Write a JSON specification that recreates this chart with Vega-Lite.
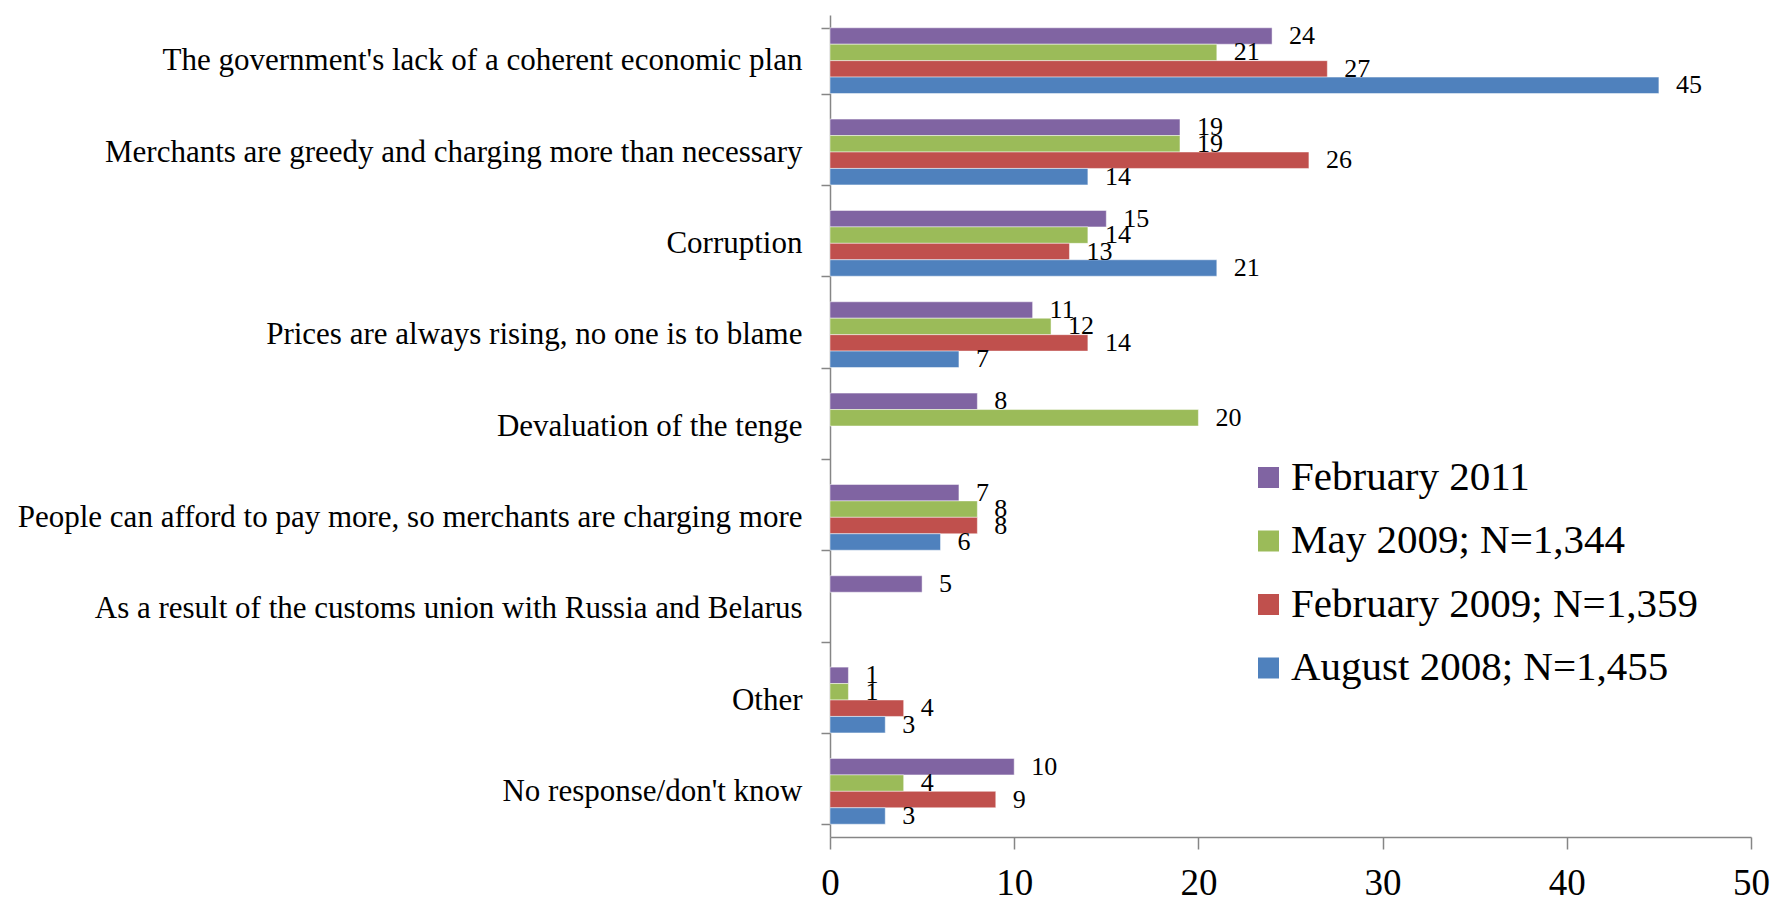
{
  "$schema": "https://vega.github.io/schema/vega-lite/v6.json",
  "width": 921,
  "height": 822,
  "autosize": {"type": "none"},
  "padding": {"left": 830, "top": 15, "right": 24, "bottom": 64},
  "background": "white",
  "config": {
    "font": "Liberation Serif",
    "view": {"stroke": null}
  },
  "data": {
    "values": [
      {"cause": "The government's lack of a coherent economic plan", "series": "February 2011", "value": 24},
      {"cause": "The government's lack of a coherent economic plan", "series": "May 2009; N=1,344", "value": 21},
      {"cause": "The government's lack of a coherent economic plan", "series": "February 2009; N=1,359", "value": 27},
      {"cause": "The government's lack of a coherent economic plan", "series": "August 2008; N=1,455", "value": 45},
      {"cause": "Merchants are greedy and charging more than necessary", "series": "February 2011", "value": 19},
      {"cause": "Merchants are greedy and charging more than necessary", "series": "May 2009; N=1,344", "value": 19},
      {"cause": "Merchants are greedy and charging more than necessary", "series": "February 2009; N=1,359", "value": 26},
      {"cause": "Merchants are greedy and charging more than necessary", "series": "August 2008; N=1,455", "value": 14},
      {"cause": "Corruption", "series": "February 2011", "value": 15},
      {"cause": "Corruption", "series": "May 2009; N=1,344", "value": 14},
      {"cause": "Corruption", "series": "February 2009; N=1,359", "value": 13},
      {"cause": "Corruption", "series": "August 2008; N=1,455", "value": 21},
      {"cause": "Prices are always rising, no one is to blame", "series": "February 2011", "value": 11},
      {"cause": "Prices are always rising, no one is to blame", "series": "May 2009; N=1,344", "value": 12},
      {"cause": "Prices are always rising, no one is to blame", "series": "February 2009; N=1,359", "value": 14},
      {"cause": "Prices are always rising, no one is to blame", "series": "August 2008; N=1,455", "value": 7},
      {"cause": "Devaluation of the tenge", "series": "February 2011", "value": 8},
      {"cause": "Devaluation of the tenge", "series": "May 2009; N=1,344", "value": 20},
      {"cause": "People can afford to pay more, so merchants are charging more", "series": "February 2011", "value": 7},
      {"cause": "People can afford to pay more, so merchants are charging more", "series": "May 2009; N=1,344", "value": 8},
      {"cause": "People can afford to pay more, so merchants are charging more", "series": "February 2009; N=1,359", "value": 8},
      {"cause": "People can afford to pay more, so merchants are charging more", "series": "August 2008; N=1,455", "value": 6},
      {"cause": "As a result of the customs union with Russia and Belarus", "series": "February 2011", "value": 5},
      {"cause": "Other", "series": "February 2011", "value": 1},
      {"cause": "Other", "series": "May 2009; N=1,344", "value": 1},
      {"cause": "Other", "series": "February 2009; N=1,359", "value": 4},
      {"cause": "Other", "series": "August 2008; N=1,455", "value": 3},
      {"cause": "No response/don't know", "series": "February 2011", "value": 10},
      {"cause": "No response/don't know", "series": "May 2009; N=1,344", "value": 4},
      {"cause": "No response/don't know", "series": "February 2009; N=1,359", "value": 9},
      {"cause": "No response/don't know", "series": "August 2008; N=1,455", "value": 3}
    ]
  },
  "encoding": {
    "y": {
      "field": "cause",
      "type": "nominal",
      "sort": null,
      "scale": {"paddingInner": 0.28, "paddingOuter": 0.14},
      "axis": {
        "title": null,
        "tickBand": "extent",
        "tickSize": 9,
        "tickColor": "#868686",
        "tickWidth": 1.5,
        "domainColor": "#868686",
        "domainWidth": 1.5,
        "labelFontSize": 31,
        "labelColor": "#000000",
        "labelPadding": 19,
        "labelLimit": 1000,
        "grid": false
      }
    },
    "yOffset": {
      "field": "series",
      "type": "nominal",
      "sort": ["February 2011", "May 2009; N=1,344", "February 2009; N=1,359", "August 2008; N=1,455"],
      "scale": {"paddingInner": 0, "paddingOuter": 0}
    },
    "x": {
      "field": "value",
      "type": "quantitative",
      "scale": {"domain": [0, 50], "nice": false},
      "axis": {
        "title": null,
        "values": [0, 10, 20, 30, 40, 50],
        "grid": false,
        "tickSize": 12,
        "tickColor": "#868686",
        "tickWidth": 1.5,
        "domainColor": "#868686",
        "domainWidth": 1.5,
        "labelFontSize": 37,
        "labelColor": "#000000",
        "labelPadding": 16,
        "labelFlush": false
      }
    }
  },
  "layer": [
    {
      "mark": {"type": "bar", "stroke": "#ffffff", "strokeWidth": 0.8, "strokeOpacity": 0.6},
      "encoding": {
        "color": {
          "field": "series",
          "type": "nominal",
          "sort": ["February 2011", "May 2009; N=1,344", "February 2009; N=1,359", "August 2008; N=1,455"],
          "scale": {
            "domain": ["February 2011", "May 2009; N=1,344", "February 2009; N=1,359", "August 2008; N=1,455"],
            "range": ["#8064A2", "#9BBB59", "#C0504D", "#4F81BD"]
          },
          "legend": {
            "orient": "none",
            "legendX": 418,
            "legendY": 442,
            "title": null,
            "symbolType": "square",
            "symbolSize": 441,
            "symbolStrokeWidth": 0,
            "labelFontSize": 41,
            "labelColor": "#000000",
            "labelOffset": 2,
            "rowPadding": 21.5,
            "padding": 0,
            "labelLimit": 1000
          }
        }
      }
    },
    {
      "mark": {"type": "text", "align": "left", "baseline": "middle", "dx": 17, "fontSize": 26, "color": "#000000"},
      "encoding": {
        "text": {"field": "value", "type": "quantitative"}
      }
    }
  ]
}
